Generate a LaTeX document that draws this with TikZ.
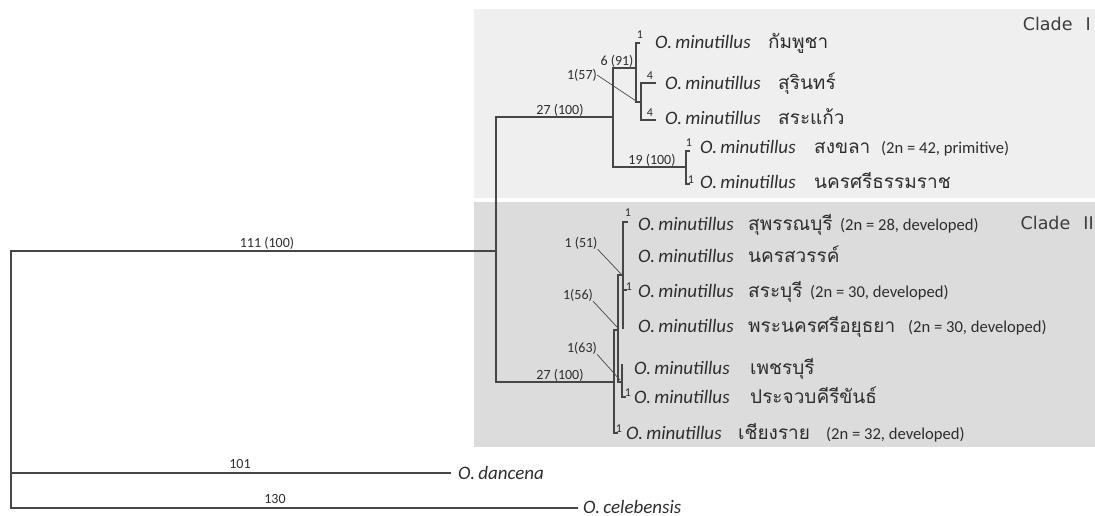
\documentclass[tikz,border=0pt]{standalone}
\usepackage{fontspec}
\setmainfont{Carlito}
\newfontfamily\thaifont[Script=Thai]{Loma}
\newfontfamily\cladefont{DejaVu Sans}
\definecolor{boxone}{RGB}{239,239,239}
\definecolor{boxtwo}{RGB}{220,220,220}
\definecolor{ink}{RGB}{70,70,70}
\definecolor{txt}{RGB}{45,45,45}
\definecolor{cladeink}{RGB}{60,60,60}
\begin{document}
\begin{tikzpicture}[x=1pt,y=-1pt,
  br/.style={draw=ink,line width=1.6pt,line cap=rect},
  lead/.style={draw=ink,line width=0.7pt},
  num/.style={font=\fontsize{14}{14}\selectfont,text=txt,inner sep=0pt},
  tiny/.style={font=\fontsize{12}{12}\selectfont,text=txt,inner sep=0pt},
  sp/.style={font=\fontsize{19}{19}\selectfont\itshape,text=txt,inner sep=0pt,anchor=base west},
  th/.style={font=\thaifont\fontsize{19}{19}\selectfont,text=txt,inner sep=0pt,anchor=base west},
  note/.style={font=\fontsize{16.6}{16.6}\selectfont,text=txt,inner sep=0pt,anchor=base west},
  clade/.style={font=\cladefont\fontsize{17.5}{17.5}\selectfont,text=cladeink,inner sep=0pt,anchor=base east}]
\useasboundingbox (0,0) rectangle (1095,516);
% clade boxes
\fill[boxone] (474,9) rectangle (1095,198);
\fill[boxtwo] (474,202) rectangle (1095,447);
\node[clade] (cladeI) at (1091,31) {Clade\hspace{0.75em}I};
\node[clade] (cladeII) at (1094,229) {Clade\hspace{0.75em}II};

% ---- coordinates ----
\coordinate (root) at (11,251);
\coordinate (ing) at (496,251);
\coordinate (dan0) at (11,473);
\coordinate (danE) at (450,473);
\coordinate (rootB) at (11,508);
\coordinate (celE) at (577,508);
\coordinate (ingT) at (496,117);
\coordinate (ingB) at (496,382);
\coordinate (c1) at (613,117);
\coordinate (c2) at (614,382);
% clade I
\coordinate (a1) at (613,68);
\coordinate (a2) at (636,68);
\coordinate (n91t) at (636,43);
\coordinate (n91b) at (636,102);
\coordinate (tip1) at (639,43);
\coordinate (n57a) at (641,102);
\coordinate (n57t) at (641,83);
\coordinate (n57b) at (641,120);
\coordinate (tip2) at (655,83);
\coordinate (tip3) at (655,120);
\coordinate (a3) at (613,167);
\coordinate (a4) at (686,167);
\coordinate (n19t) at (686,151);
\coordinate (n19b) at (686,184);
\coordinate (tip4) at (689,151);
\coordinate (tip5) at (689,184);
% clade II
\coordinate (n2t) at (614,330);
\coordinate (n2b) at (614,433);
\coordinate (tip12) at (617,433);
\coordinate (n56t) at (618,330);
\coordinate (n56T) at (618,275);
\coordinate (n56b) at (618,382);
\coordinate (n51a) at (623,275);
\coordinate (n51t) at (623,222);
\coordinate (n51b) at (623,328);
\coordinate (tip6) at (627,222);
\coordinate (n51m) at (623,290);
\coordinate (tip8) at (626,290);
\coordinate (n63a) at (622,382);
\coordinate (n63t) at (622,365);
\coordinate (n63b) at (622,397);
\coordinate (tip11) at (625,397);

% ---- branches ----
\draw[br] (root) -- (ing);
\draw[br] (root) -- (rootB) -- (celE);
\draw[br] (dan0) -- (danE);
\draw[br] (c1) -- (ingT) -- (ingB) -- (c2);
\draw[br] (a1) -- (a3);
\draw[br] (a1) -- (a2);
\draw[br] (n91t) -- (n91b);
\draw[br] (n91t) -- (tip1);
\draw[br] (n91b) -- (n57a);
\draw[br] (n57t) -- (n57b);
\draw[br] (n57t) -- (tip2);
\draw[br] (n57b) -- (tip3);
\draw[br] (a3) -- (a4);
\draw[br] (n19t) -- (n19b);
\draw[br] (n19t) -- (tip4);
\draw[br] (n19b) -- (tip5);
\draw[br] (n2t) -- (n2b) -- (tip12);
\draw[br] (n2t) -- (n56t);
\draw[br] (n56T) -- (n56b);
\draw[br] (n56T) -- (n51a);
\draw[br] (n51t) -- (n51b);
\draw[br] (n51t) -- (tip6);
\draw[br] (n51m) -- (tip8);
\draw[br] (n56b) -- (n63a);
\draw[br] (n63t) -- (n63b) -- (tip11);

% ---- branch labels ----
\node[num] (l111) at (267,243) {111 (100)};
\node[num] (l101) at (240,464) {101};
\node[num] (l130) at (275,499) {130};
\node[num] (l27a) at (560,110) {27 (100)};
\node[num] (l691) at (617,61) {6 (91)};
\node[num] (l157) at (582,75) {1(57)};
\node[num] (l19) at (652,160) {19 (100)};
\node[num] (l27b) at (560,375) {27 (100)};
\node[num] (l151) at (581,243) {1 (51)};
\node[num] (l156) at (578,295) {1(56)};
\node[num] (l163) at (582,348) {1(63)};
\coordinate (e57) at (636,101);
\coordinate (e51) at (622,275);
\coordinate (e56) at (617,327);
\coordinate (e63) at (620,380);
\draw[lead] (l157.east) -- (e57);
\draw[lead] (l151.south east) -- (e51);
\draw[lead] (l156.south east) -- (e56);
\draw[lead] (l163.south east) -- (e63);
\node[tiny] (k1) at (640,35) {1};
\node[tiny] (k2) at (650,76) {4};
\node[tiny] (k3) at (650,113) {4};
\node[tiny] (k4) at (689,143) {1};
\node[tiny] (k5) at (691,180) {1};
\node[tiny] (k6) at (628,213) {1};
\node[tiny] (k8) at (629,287) {1};
\node[tiny] (k11) at (628,393) {1};
\node[tiny] (k12) at (619,429) {1};

% ---- tips ----
\node[sp] (t1) at (655,48.5) {O.\,minutillus};
\node[th] (h1) at (768,48.5) {กัมพูชา};
\node[sp] (t2) at (665,89.5) {O.\,minutillus};
\node[th] (h2) at (778,89.5) {สุรินทร์};
\node[sp] (t3) at (665,124.5) {O.\,minutillus};
\node[th] (h3) at (778,124.5) {สระแก้ว};
\node[sp] (t4) at (700,153.5) {O.\,minutillus};
\node[th] (h4) at (814,153.5) {สงขลา};
\node[note] (m4) at (881,153.5) {(2n = 42, primitive)};
\node[sp] (t5) at (700,188.5) {O.\,minutillus};
\node[th] (h5) at (814,188.5) {นครศรีธรรมราช};
\node[sp] (t6) at (638,230) {O.\,minutillus};
\node[th] (h6) at (748,230) {สุพรรณบุรี};
\node[note] (m6) at (840,230) {(2n = 28, developed)};
\node[sp] (t7) at (638,262.5) {O.\,minutillus};
\node[th] (h7) at (748,262.5) {นครสวรรค์};
\node[sp] (t8) at (638,297.5) {O.\,minutillus};
\node[th] (h8) at (748,297.5) {สระบุรี};
\node[note] (m8) at (810,297.5) {(2n = 30, developed)};
\node[sp] (t9) at (638,332.5) {O.\,minutillus};
\node[th] (h9) at (748,332.5) {พระนครศรีอยุธยา};
\node[note] (m9) at (908,332.5) {(2n = 30, developed)};
\node[sp] (t10) at (634,374.5) {O.\,minutillus};
\node[th] (h10) at (750,374.5) {เพชรบุรี};
\node[sp] (t11) at (634,403.5) {O.\,minutillus};
\node[th] (h11) at (750,403.5) {ประจวบคีรีขันธ์};
\node[sp] (t12) at (626,439.5) {O.\,minutillus};
\node[th] (h12) at (738,439.5) {เชียงราย};
\node[note] (m12) at (826,439.5) {(2n = 32, developed)};
\node[sp] (tdan) at (458,479.5) {O.\,dancena};
\node[sp] (tcel) at (583,513) {O.\,celebensis};
\end{tikzpicture}
\end{document}
